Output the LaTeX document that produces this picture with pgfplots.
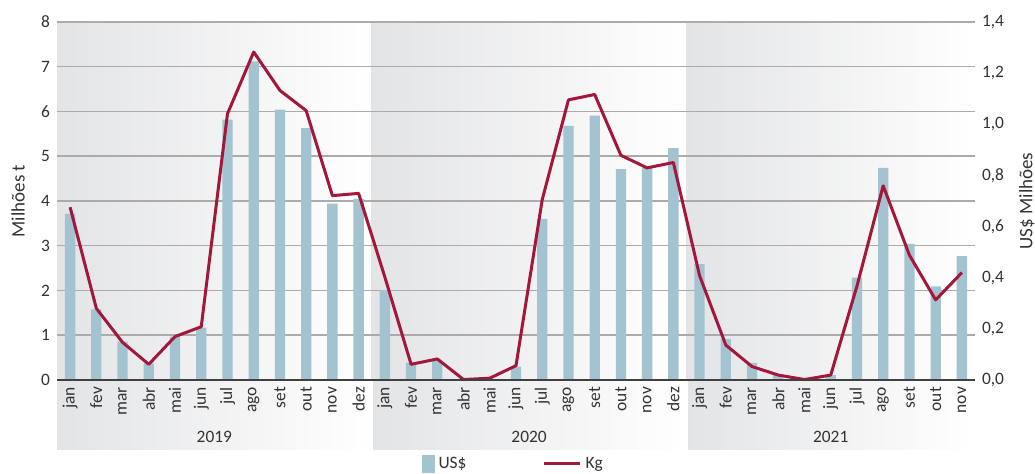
\documentclass[border=0pt]{standalone}
\usepackage{pgfplots}
\pgfplotsset{compat=1.18}
\usepackage{fontspec}
\setmainfont{Carlito}
\definecolor{barc}{HTML}{A4C3D0}
\definecolor{linec}{HTML}{A3173B}
\definecolor{gridc}{HTML}{ABABAB}
\definecolor{bandc}{HTML}{E3E4E6}
\definecolor{txt}{HTML}{333333}
\definecolor{zeroc}{HTML}{404040}
\newcommand{\lf}{\fontsize{8.7}{10}\selectfont}
\newcommand{\af}{\fontsize{9.5}{11}\selectfont}
\begin{document}
\begin{tikzpicture}
\begin{axis}[
  at={(0,0)}, anchor=south west,
  scale only axis, width=459pt, height=179pt,
  set layers, clip=false,
  xmin=-0.5, xmax=34.5, ymin=0, ymax=8,
  axis line style={draw=none}, tick style={draw=none},
  ytick={0,1,...,8}, ymajorgrids,
  grid style={gridc, line width=0.75pt},
  xtick={0,...,34},
  xticklabels={jan,fev,mar,abr,mai,jun,jul,ago,set,out,nov,dez,
               jan,fev,mar,abr,mai,jun,jul,ago,set,out,nov,dez,
               jan,fev,mar,abr,mai,jun,jul,ago,set,out,nov},
  xticklabel style={rotate=90, anchor=east, font=\lf, text=txt, xshift=0pt},
  yticklabel style={font=\lf, text=txt},
  /pgf/number format/assume math mode=true,
  ylabel={Milhões t},
  ylabel style={at={(rel axis cs:-0.0425,0.5)}, anchor=center, rotate=0, font=\af, text=txt},
  legend columns=2,
  legend style={at={(rel axis cs:0.498,-0.2346)}, anchor=center, draw=none, fill=none,
     font=\lf, text=txt,
     /tikz/every even column/.append style={column sep=36pt}},
]
\begin{pgfonlayer}{axis background}
\fill[left color=bandc, right color=white] (axis cs:-0.5,-1.564) rectangle (axis cs:11.5,8);
\fill[left color=bandc, right color=white] (axis cs:11.5,-1.564) rectangle (axis cs:23.5,8);
\fill[left color=bandc, right color=white] (axis cs:23.5,-1.564) rectangle (axis cs:34.5,8);
\fill[white] (axis cs:11.44,-1.6) rectangle (axis cs:11.56,0);
\fill[white] (axis cs:23.44,-1.6) rectangle (axis cs:23.56,0);
\end{pgfonlayer}
\addplot[ybar, bar width=5.15pt, fill=barc, draw=none,
  legend image code/.code={\fill[barc] (0pt,-4.5pt) rectangle (6.5pt,4.5pt);}]
  coordinates {
  (0,3.71)(1,1.58)(2,0.86)(3,0.37)(4,0.97)(5,1.17)(6,5.82)(7,7.12)(8,6.04)(9,5.63)(10,3.94)(11,4.05)
  (12,2.01)(13,0.39)(14,0.43)(15,0.0)(16,0.0)(17,0.30)(18,3.60)(19,5.68)(20,5.91)(21,4.71)(22,4.75)(23,5.18)
  (24,2.59)(25,0.92)(26,0.38)(27,0.11)(28,0.0)(29,0.11)(30,2.29)(31,4.74)(32,3.04)(33,2.09)(34,2.77)
  };
\addlegendentry{US\$}
\addplot[linec, line width=1.5pt, sharp plot, mark=none, line join=round,
  legend image code/.code={\draw[linec, line width=1.5pt] (0pt,0pt) -- (18pt,0pt);}]
  coordinates {
  (0,3.86)(1,1.60)(2,0.84)(3,0.35)(4,0.97)(5,1.19)(6,5.95)(7,7.33)(8,6.47)(9,6.02)(10,4.12)(11,4.17)
  (12,2.30)(13,0.35)(14,0.47)(15,0.01)(16,0.04)(17,0.32)(18,4.03)(19,6.26)(20,6.38)(21,5.02)(22,4.74)(23,4.86)
  (24,2.33)(25,0.78)(26,0.30)(27,0.11)(28,0.01)(29,0.11)(30,2.10)(31,4.34)(32,2.79)(33,1.79)(34,2.40)
  };
\addlegendentry{Kg}
\draw[zeroc, line width=1pt] (axis cs:-0.5,0) -- (axis cs:34.5,0);
\node[font=\lf, text=txt] at (axis cs:5.5,-1.27) {2019};
\node[font=\lf, text=txt] at (axis cs:17.5,-1.27) {2020};
\node[font=\lf, text=txt] at (axis cs:29,-1.27) {2021};
\end{axis}
\begin{axis}[
  at={(0,0)}, anchor=south west,
  scale only axis, width=459pt, height=179pt,
  xmin=-0.5, xmax=34.5, ymin=0, ymax=1.4,
  axis x line=none, axis y line*=right,
  axis line style={draw=none}, tick style={draw=none},
  ytick={0,0.2,0.4,0.6,0.8,1.0,1.2,1.4},
  yticklabel style={font=\lf, text=txt, /pgf/number format/.cd, fixed, fixed zerofill, precision=1, use comma, assume math mode=true},
  ylabel={US\$ Milhões},
  ylabel style={at={(rel axis cs:1.0566,0.5)}, anchor=center, rotate=0, font=\af, text=txt},
]
\addplot[draw=none] coordinates {(0,0)};
\end{axis}
\pgfresetboundingbox
\useasboundingbox (-28.5pt,-47pt) rectangle (489pt,190pt);
\end{tikzpicture}
\end{document}
